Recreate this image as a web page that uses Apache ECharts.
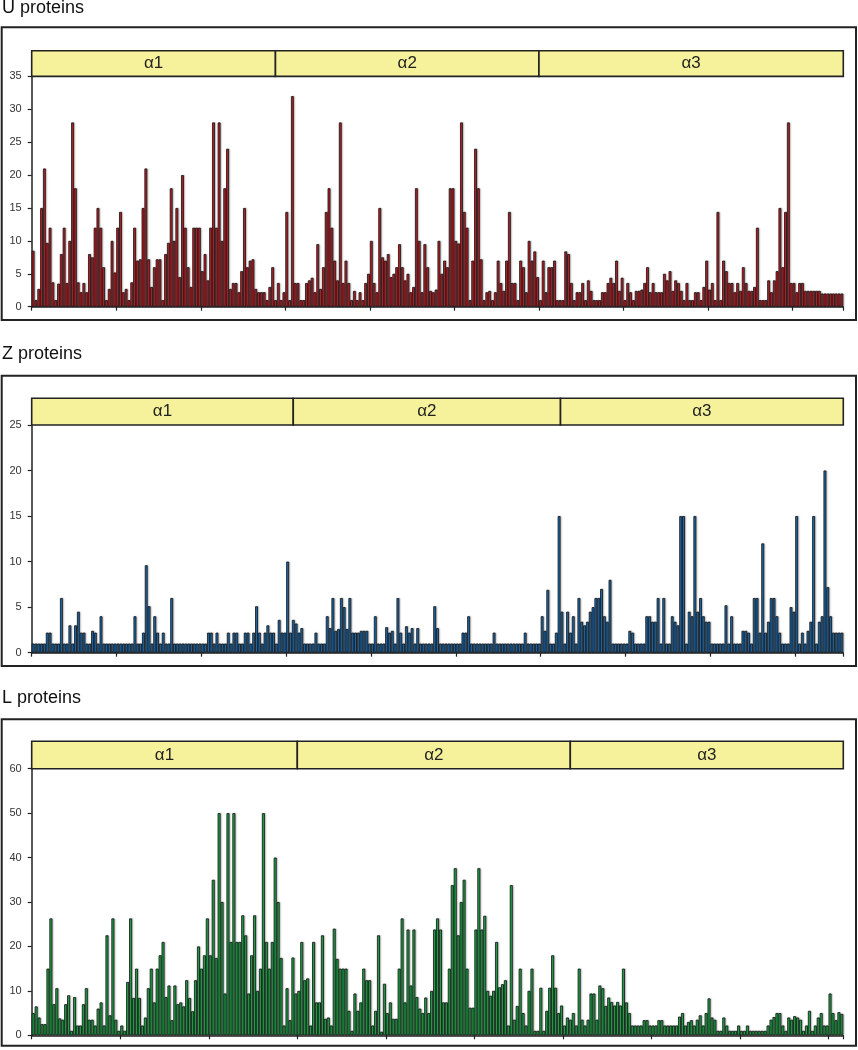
<!DOCTYPE html>
<html>
<head>
<meta charset="utf-8">
<script src="https://cdn.jsdelivr.net/npm/echarts@6/dist/echarts.min.js"></script>
<style>
html,body{margin:0;padding:0;background:#fff;}
#c{width:858px;height:1050px;}
</style>
</head>
<body>
<div id="c"></div>
<script>
// ---------- DATA ----------
const panelTitles = ['U proteins', 'Z proteins', 'L proteins'];
const domainLabels = ['\u03b11', '\u03b12', '\u03b13'];

const uValues = [
 8.5,1,2.7,15,21,9.7,12,3.7,1,3.5, 8,12,3.6,10,28,18,3.7,2.2,3.6,2.2,
 8,7.5,12,15,12,6,1,2.7,10,5.2, 12,14.4,2.2,2.7,1,3.7,12,7,7.2,15,
 21,7.2,3,6,7.2,7.2,1,8,9.7,18, 10,15,4.5,20,12,6,3,12,12,12,
 5.4,8,4,12,28,12,28,10,18,24, 2.7,3.6,3.6,2.2,5.4,15,6,7,7.2,2.7,
 2.2,2.2,2.2,1,3,6,1,3.6,1,2.2, 14.4,1,
 32,3.6,3.6,1,1,3.6,4,4.4,2.2,9.5, 2.7,6,14.4,18,12,7,4,28,3.6,7,
 3.6,1,2.4,1,2.2,1,3.6,5,10,3.6, 2.2,15,7.5,7,8,4.5,5,6,9.5,6,
 4,5,2.2,3,18,10,2.2,9.5,6,2.4, 2.2,2.6,10,5,7,6,18,18,10,9.6,
 28,14.4,12,1,7,24,18,7.2,1,2.2, 2.4,1,2.2,7,3.6,2.4,7,14.4,3.6,3.6,
 1,7,6,2.2,10,7,8.4,4.5,1,7, 2.2,6,6,7,1,1,1,8.4,8,
 3.6,1,2.2,2.2,3.6,1,4,2.4,1,1, 1,2.2,2.2,3.6,4.4,3.6,7,2.4,4.4,1,
 3.6,2.2,1,2.4,2.4,2.6,3.6,6,2.2,3.6, 2.2,2.2,2.2,5,4,5.4,2.4,4,3.6,2.4,
 1,3.6,1,1,2.2,2.2,1,3,7,2.6, 3.6,1,14.4,1,7,5.4,3.6,3.6,2.2,3.6,
 2.4,6,3.6,2.4,2.4,3,12,1,1,1, 4,2.2,4,5.4,15,6,14.4,28,3.6,3.6,
 2.2,3.6,3.6,2.4,2.4,2.4,2.4,2.4,2.4,2, 2,2,2,2,2,2,2
];

const zValues = [
 1,1,1,1,1,2.2,2.2,1,1,1, 6,1,1,3,1,3,4.5,2.2,2.2,1,
 1,2.4,2.2,1,4,1,1,1,1,1, 1,1,1,1,1,1,4,1,1,2.2,
 9.6,5.1,1,4,2.2,1,2.2,1,1,6, 1,1,1,1,1,1,1,1,1,1,
 1,1,2.2,2.2,1,2.2,1,1,1,2.2, 1,2.2,2.2,1,1,2.2,2.2,1,2.2,5.1,
 2.2,1,2.2,3,2.2,2.2,1,3.6,2.2,2.2, 10,
 2.2,3.6,3.2,2.2,2.7,1,1,1,1,2.2, 1,1,1,4,2.7,6,2.4,2.6,6,5,
 2.6,6,2.2,2.2,2.2,2.4,2.4,2.4,1,1, 4,1,1,1,2.8,2.2,2.4,1,6,2.2,
 1,2.9,2.2,2.7,1,2.7,1,1,1,1, 1,5.1,2.7,1,1,1,1,1,1,1,
 1,2.2,2.2,4,1,1,1,1,1,1, 1,1,2.2,1,1,1,1,1,1,1,
 1,1,1,2.2,1,1,1,1,1,4, 2.4,6.9,1,1,2.2,15,
 4.5,1,4.5,2.2,4,1,6,3.4,3,3.4, 4.5,5,6,6,7,4,3.4,8,1,1,
 1,1,1,1,2.4,2.2,1,1,1,1, 4,4,3.4,3.4,6,1,6,1,1,4,
 3.4,3,15,15,1,4.5,4,15,4.5,6, 4,3.4,3.4,1,1,1,1,1,5.2,1,
 4,1,1,1,2.4,2.4,2.2,1,6,6, 2.2,12,2.2,3.4,6,6,4,2.2,1,1,
 1,5,4.5,15,1,2.2,1,2.4,3.4,15, 1,3.4,4,20,7.2,4,2.2,2.2,2.2,2.2
];

const lValues = [
 5,6.5,4,2.5,2.5,15,26.3,7,10.6,3.8, 3.5,7,9,1,8.6,2.2,2.2,7,10.6,3.5,
 3.5,2.2,6,7.4,2.2,22.5,4.5,26.3,3.5,1, 2.2,1,12,26.3,8.4,15,8.4,2.2,4,10.6,
 15,7.4,15,18,21,8.6,11.2,3.4,11.2,7, 7.4,6.5,12.4,8.4,5.4,12.4,20,15,18,26.3,
 18,35,17.4,50,30,9.4,50,21,50,21, 21,27,22.5,9.4,18,27,10,15,50,21,
 15,21,40,30,17.4,2.2,10.6,3.4,
 17.5,9.4,10,21,12.4,12.8,2.2,21,7.4,7.4, 22.5,3.7,4,2.2,24,17.2,15,15,15,5.5,
 1,9.4,5.5,7.4,15,12.4,12.4,2.2,5.5,22.5, 0.8,11.6,5,7.4,3.7,3.7,15,26.3,7.4,23.8,
 11.2,23.8,8.6,6,5,8.5,5,10,23.8,26.3, 23.8,7.4,7.4,15,33.8,37.6,22.5,30,35,15,
 6.2,6.2,23.8,37.6,23.8,26.9,10,8.9,10,21, 10.8,11.5,12.4,2.2,33.8,3.5,6.6,15,5,2.2,
 10,15,1,1,10.7,1,5.5,10.7,18,10.7, 5,
 6.7,2.2,4,3.5,5,2.2,15,3.5,2.2,3.5, 9.4,9.4,3.5,11.2,10.6,6.6,8.5,7.5,6.7,7.5,
 6.7,15,7.4,5,2.2,2.2,2.2,2.2,3.4,3.4, 2.2,2.2,2.2,3.4,3.4,2.2,2.2,2.2,2.2,2.2,
 4.2,5,2.2,3,3.4,2.2,3.5,4.5,2.2,5, 8.3,4,3.5,1,1,4,2.2,1,1,1,
 2.2,1,1,2.2,1,1,1,1,1,1, 2.2,3.5,4.1,5,5,2.2,1,4,3.5,4.3,
 4,3.5,1,2.2,5.5,1,2.2,4,5,2.2, 2.2,9.4,5,3.4,5.2,4.8
];

// domain boundaries (in residue positions)
const uDomains = [[0, 86.5], [86.5, 180], [180, 288]];
const zDomains = [[0, 92.5], [92.5, 187], [187, 287]];
const lDomains = [[0, 90], [90, 182.5], [182.5, 275]];

const yMax = [35, 25, 60];
const yInterval = [5, 5, 10];
const tickEvery = 30;

// ---------- LAYOUT ----------
const panels = [
  {values: uValues, domains: uDomains, color: '#D41F28', box: [1.7, 27.3, 854.3, 292.7], titleY: 7.9,
   head: [50.7, 25.7], plot: [76.4, 230.3]},
  {values: zValues, domains: zDomains, color: '#1D74C0', box: [1.7, 375.7, 854.3, 290.3], titleY: 354.5,
   head: [398.3, 26.7], plot: [425, 227.7]},
  {values: lValues, domains: lDomains, color: '#1FB34C', box: [1.7, 719.3, 854.3, 326.5], titleY: 697.9,
   head: [741.3, 27.4], plot: [768.7, 266.6]}
];
const gLeft = 31.7, gWidth = 811.6;

const grid = [], xAxis = [], yAxis = [], series = [], graphic = [];
panels.forEach((p, k) => {
  const n = p.values.length;
  grid.push({left: gLeft, width: gWidth, top: p.plot[0], height: p.plot[1]});
  grid.push({left: gLeft, width: gWidth, top: p.head[0], height: p.head[1]});
  const gi = k * 2;
  xAxis.push({
    gridIndex: gi, type: 'category', boundaryGap: true,
    data: p.values.map((v, i) => i + 1),
    axisLine: {show: true, lineStyle: {color: '#222', width: 1.5}},
    axisTick: {show: true, length: 4, lineStyle: {color: '#222', width: 1.2},
               interval: (idx) => idx % tickEvery === 0},
    axisLabel: {show: false}, splitLine: {show: false}
  });
  xAxis.push({gridIndex: gi + 1, type: 'value', min: 0, max: n, show: false});
  yAxis.push({
    gridIndex: gi, type: 'value', min: 0, max: yMax[k], interval: yInterval[k],
    axisLine: {show: true, lineStyle: {color: '#222', width: 1.5}},
    axisTick: {show: true, length: 4, lineStyle: {color: '#222', width: 1.2}},
    axisLabel: {show: true, color: '#333', fontSize: 11, fontFamily: 'Liberation Sans, Arial, sans-serif', margin: 10},
    splitLine: {show: false}
  });
  yAxis.push({gridIndex: gi + 1, type: 'value', min: 0, max: 1, show: false});

  series.push({
    type: 'bar', xAxisIndex: gi, yAxisIndex: gi,
    data: p.values, barCategoryGap: 0, barGap: 0,
    itemStyle: {color: p.color, borderColor: '#111', borderWidth: 0.8,
                shadowColor: 'rgba(0,0,0,0.25)', shadowBlur: 1.5, shadowOffsetX: 1},
    silent: true
  });
  series.push({
    type: 'custom', xAxisIndex: gi + 1, yAxisIndex: gi + 1,
    data: p.domains,
    clip: false, silent: true,
    renderItem: (params, api) => {
      const s = api.coord([api.value(0), 1]);
      const e = api.coord([api.value(1), 0]);
      return {
        type: 'group',
        children: [
          {type: 'rect', shape: {x: s[0], y: s[1], width: e[0] - s[0], height: e[1] - s[1]},
           style: {fill: '#F6F29B', stroke: '#222', lineWidth: 1.6}},
          {type: 'text', style: {text: domainLabels[params.dataIndex], x: (s[0] + e[0]) / 2, y: (s[1] + e[1]) / 2,
            align: 'center', verticalAlign: 'middle', fill: '#222',
            font: '17px "Liberation Sans", Arial, sans-serif'}}
        ]
      };
    }
  });

  graphic.push({
    type: 'rect', shape: {x: p.box[0], y: p.box[1], width: p.box[2], height: p.box[3]},
    style: {fill: 'none', stroke: '#222', lineWidth: 2}, silent: true, z: 0
  });
  graphic.push({
    type: 'text', x: 2, y: p.titleY,
    style: {text: panelTitles[k], fill: '#111', font: '18px "Liberation Sans", Arial, sans-serif',
            verticalAlign: 'middle', align: 'left'}
  });
});

const chart = echarts.init(document.getElementById('c'), null, {renderer: 'canvas'});
chart.setOption({
  animation: false,
  backgroundColor: '#fff',
  grid, xAxis, yAxis, series, graphic
});
</script>
</body>
</html>
